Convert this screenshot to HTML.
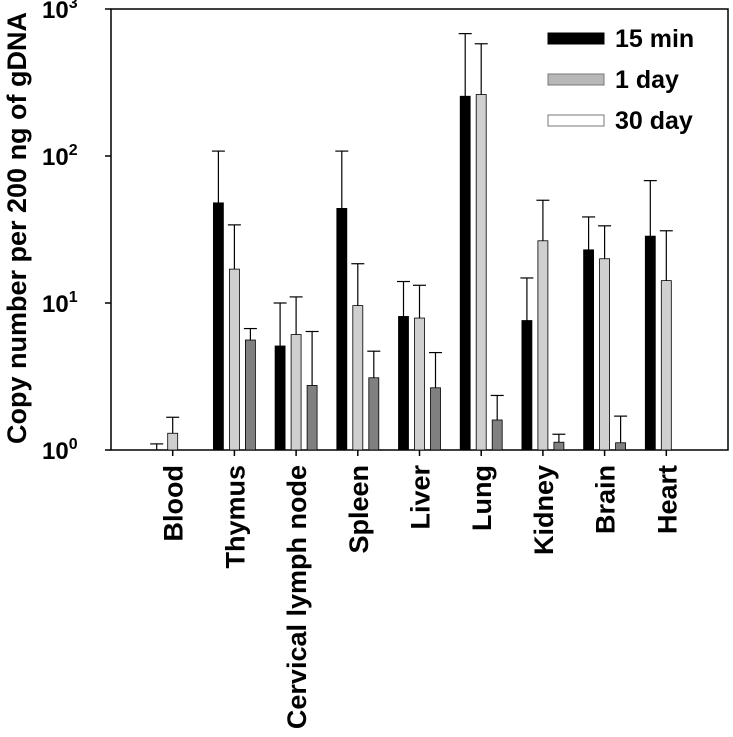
<!DOCTYPE html>
<html><head><meta charset="utf-8"><style>
body{margin:0;background:#fff}
svg text{font-family:"Liberation Sans",Arial,sans-serif;font-weight:bold;fill:#000}
</style></head><body>
<svg id="chart" width="733" height="732" xmlns="http://www.w3.org/2000/svg">
<g id="plot"></g>
</svg>
<script>
const categories=["Blood","Thymus","Cervical lymph node","Spleen","Liver","Lung","Kidney","Brain","Heart"];
const series15min=[1.0,48,5.1,44,8.1,255,7.6,23,28.5];
const err15min=[1.1,108,10,108,14,680,14.8,38.5,68];
const series1day=[1.3,17,6.1,9.6,7.9,262,26.5,20,14.2];
const err1day=[1.67,34,11,18.5,13.2,580,50,33.5,31];
const series30day=[null,5.6,2.75,3.1,2.65,1.6,1.13,1.12,null];
const err30day=[null,6.7,6.4,4.7,4.6,2.35,1.28,1.7,null];
const yTicks=[0,1,2,3];
const seriesNames=["15 min","1 day","30 day"];

const NS="http://www.w3.org/2000/svg";
const g=document.getElementById('plot');
const L=111,R=728,T=9,B=450;
function y(v){return B-(B-T)*Math.log10(v)/3;}
function x(i){return L+(R-L)/10*(i+1);}
function el(tag,attrs,parent){const e=document.createElementNS(NS,tag);for(const k in attrs)e.setAttribute(k,attrs[k]);(parent||g).appendChild(e);return e;}

const frame=el('rect',{x:L,y:T,width:R-L,height:B-T,fill:'none',stroke:'#000','stroke-width':1.5});



yTicks.forEach(p=>{
  const yy=y(Math.pow(10,p));
  const t=el('line',{x1:L-6,x2:L,y1:yy,y2:yy,stroke:'#000','stroke-width':1.5});
  
  
  const tx=el('text',{x:42,y:yy+9,'font-size':24});
  
  
  tx.textContent='10';
  const sup=el('tspan',{dy:-10,'font-size':16},tx);
  sup.textContent=String(p);
});

const cols=['#000','#cfcfcf','#808080'];
const vals=[series15min,series1day,series30day];
const errs=[err15min,err1day,err30day];
const offs=[-16,0,16];
categories.forEach((c,i)=>{
  const cx=x(i);
  const tk=el('line',{x1:cx,x2:cx,y1:B,y2:B+6,stroke:'#000','stroke-width':1.5});
  
  
  for(let s=0;s<3;s++){
    const v=vals[s][i];
    if(v==null)continue;
    const bx=cx+offs[s];
    const top=y(v);
    if(B-top>0.5){
      const r=el('rect',{x:bx-5,y:top,width:10,height:B-top,fill:cols[s],stroke:'#000','stroke-width':0.8});
      
      
    }
    const e=errs[s][i];
    if(e!=null){
      const ye=y(e);
      const l=el('line',{x1:bx,x2:bx,y1:top,y2:ye,stroke:'#000','stroke-width':1.2});
      
      
      const cap=el('line',{x1:bx-6.5,x2:bx+6.5,y1:ye,y2:ye,stroke:'#000','stroke-width':1.2});
      
      
    }
  }
  const lb=el('text',{x:0,y:0,'font-size':27,'text-anchor':'end',transform:`translate(${cx+10},465) rotate(-90)`});
  
  
  lb.textContent=c;
});

const legCols=['#000','#b8b8b8','#fff'];
seriesNames.forEach((n,k)=>{
  const yy=38+41*k;
  const sw=el('rect',{x:548,y:yy-5,width:56,height:11,fill:legCols[k],stroke:k?'#777':'#000','stroke-width':1});
  
  
  const t=el('text',{x:615,y:yy+9,'font-size':25});
  
  
  t.textContent=n;
});

const yl=el('text',{x:0,y:0,'font-size':27,'text-anchor':'middle',transform:'translate(26,228) rotate(-90)'});


yl.textContent='Copy number per 200 ng of gDNA';
</script>
</body></html>
